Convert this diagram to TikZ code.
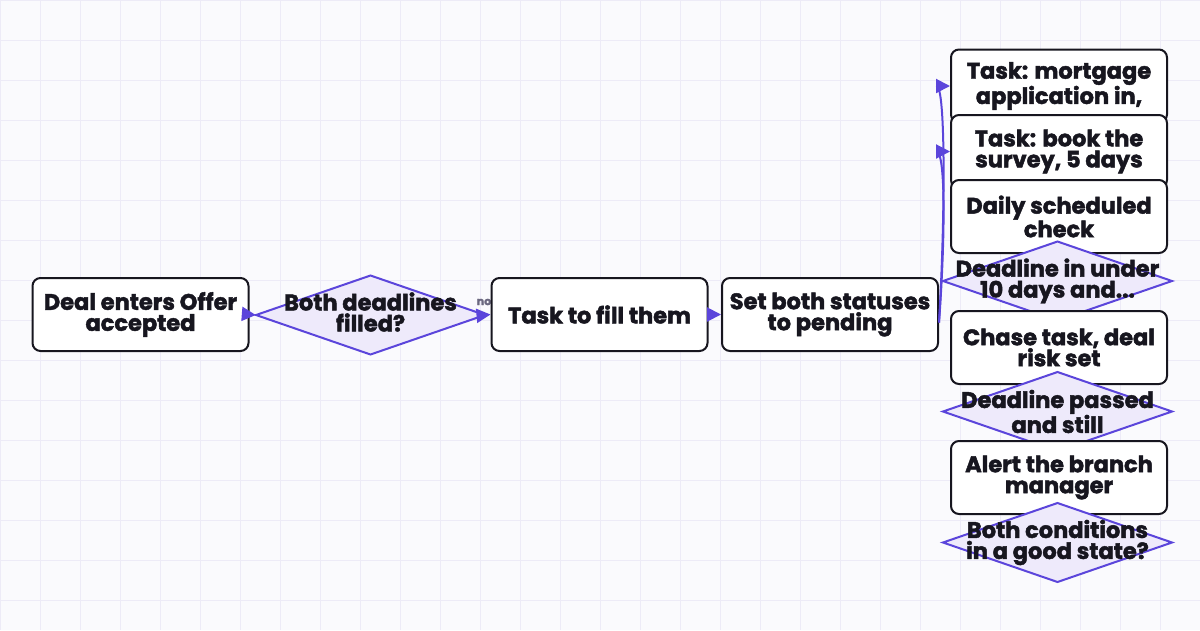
\documentclass[tikz,border=0pt]{standalone}
\usepackage{fontspec}
\setmainfont{Poppins}[BoldFeatures={FakeBold=2}]
\usetikzlibrary{arrows.meta}
\definecolor{bgc}{HTML}{FAFAFD}
\definecolor{gridc}{HTML}{EDEBF7}
\definecolor{ink}{HTML}{17161F}
\definecolor{purp}{HTML}{5B45DB}
\definecolor{dfill}{HTML}{EEEAFB}
\definecolor{lblc}{HTML}{6B6880}
\tikzset{
  box/.style={draw=ink, line width=2pt, fill=white, rounded corners=8pt,
    minimum width=216pt, minimum height=73pt, inner sep=0pt, align=center,
    font=\fontsize{22.5}{21}\selectfont\bfseries, text=ink},
  dtext/.style={minimum width=229pt, minimum height=79pt, inner sep=0pt, align=center,
    font=\fontsize{22.5}{21}\selectfont\bfseries, text=ink},
  dshape/.style={draw=purp, line width=2pt, fill=dfill, line join=miter},
  conn/.style={draw=purp, line width=2pt, -{Triangle[length=14pt,width=14pt]}},
  lbl/.style={font=\fontsize{11}{12}\selectfont\bfseries, text=lblc, inner sep=0pt}
}
% #1 name, #2 x, #3 y, #4 text shift, #5 text
\newcommand{\mydia}[5]{%
  \draw[dshape] (#2-114.5,#3) -- (#2,#3-39.5) -- (#2+114.5,#3) -- (#2,#3+39.5) -- cycle;
  \node[dtext] (#1) at (#2,#3) {};
  \node[dtext] (#1-t) at (#2,#3+#4) {#5};}
\begin{document}
\begin{tikzpicture}[x=1pt,y=-1pt]
\useasboundingbox (0,0) rectangle (1200,630);
\fill[bgc] (0,0) rectangle (1200,630);
\foreach \i in {0,40,...,1200} \draw[gridc, line width=1pt] (\i,0) -- (\i,630);
\foreach \j in {0,40,...,620} \draw[gridc, line width=1pt] (0,\j) -- (1200,\j);

\node[box] (deal) at (140.5,314.5) {Deal enters Offer\\accepted};
\mydia{d1}{370.5}{315}{-3}{Both deadlines\\filled?}
\node[lbl] (no) at (484,302) {no};
\node[box] (task) at (599.5,314.5) {Task to fill them};
\node[box] (set) at (830,314.5) {Set both statuses\\to pending};

\node[box] (mort) at (1059,86) {Task: mortgage\\application in,};
\node[box] (book) at (1059,151.5) {Task: book the\\survey, 5 days};
\node[box] (daily) at (1059,216.5) {Daily scheduled\\check};
\mydia{d2}{1057.5}{281}{0}{Deadline in under\\10 days and...}
\node[box] (chase) at (1059,347.5) {Chase task, deal\\risk set};
\mydia{d3}{1057.5}{411.5}{0}{Deadline passed\\and still}
\node[box] (alert) at (1059,477.5) {Alert the branch\\manager};
\mydia{d4}{1057.5}{542.5}{0}{Both conditions\\in a good state?}

\draw[conn] (deal.east) -- (d1.west);
\draw[conn] (d1.east) -- (task.west);
\draw[conn] (task.east) -- (set.west);
\draw[conn] ([yshift=-8pt]set.east) .. controls +(6,-100) and +(-4,0) .. (mort.west);
\draw[conn] ([yshift=-8pt]set.east) .. controls +(6,-80) and +(-4,0) .. (book.west);
\end{tikzpicture}
\end{document}
